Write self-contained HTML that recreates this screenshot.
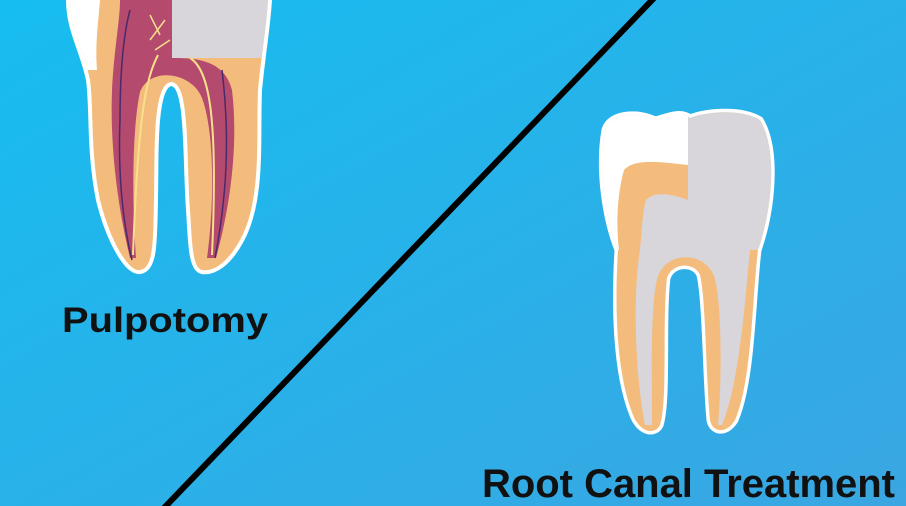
<!DOCTYPE html>
<html><head><meta charset="utf-8"><style>
html,body{margin:0;padding:0;width:906px;height:506px;overflow:hidden}
</style></head><body>
<svg width="906" height="506" viewBox="0 0 906 506" xmlns="http://www.w3.org/2000/svg">
<defs>
<linearGradient id="bg" x1="0" y1="0" x2="1" y2="1">
<stop offset="0" stop-color="#16bdf0"/>
<stop offset="1" stop-color="#3aa6e2"/>
</linearGradient>
<clipPath id="lt"><path d="M70,0 L268,0 C266,30 262,50 258,90 C256,140 262,200 240,240 C228,262 214,272 202,270 C192,268 192,240 190,210 C186,150 190,85 172,82 C152,82 155,150 154,200 C153,240 154,268 140,270 C128,272 110,240 100,200 C90,150 94,110 90,80 C84,50 70,30 70,0 Z"/></clipPath>
<clipPath id="rt"><path d="M605,130 C610,112 640,112 655,120 C665,118 680,110 690,118 C705,112 740,108 760,120 C778,150 772,210 758,250 C752,300 752,380 735,420 C726,435 712,432 710,420 C706,380 706,300 700,275 C695,262 672,262 667,278 C662,320 668,400 660,425 C655,435 640,433 633,415 C615,370 615,300 618,250 C606,220 598,170 605,130 Z"/></clipPath>
</defs>
<rect width="906" height="506" fill="url(#bg)"/>
<line x1="655" y1="-3" x2="163" y2="509" stroke="#000" stroke-width="6"/>

<!-- left tooth -->
<path d="M70,0 L268,0 C266,30 262,50 258,90 C256,140 262,200 240,240 C228,262 214,272 202,270 C192,268 192,240 190,210 C186,150 190,85 172,82 C152,82 155,150 154,200 C153,240 154,268 140,270 C128,272 110,240 100,200 C90,150 94,110 90,80 C84,50 70,30 70,0 Z" fill="#fff" stroke="#fff" stroke-width="8" stroke-linejoin="round"/>
<g clip-path="url(#lt)">
<rect x="60" y="0" width="220" height="300" fill="#f4bc7c"/>
<path d="M60,0 L100,0 C98,25 95,45 97,70 L60,70 Z" fill="#fff"/>
<path d="M120,0 L175,0 L175,58 C200,58 225,62 232,90 C238,140 232,200 216,258 L207,258 C215,200 214,130 202,98 C192,72 150,66 140,92 C132,130 132,200 136,258 L130,258 C116,200 110,140 112,90 C114,50 120,20 120,0 Z" fill="#b44a6e"/>
<path d="M172,0 L270,0 L270,58 L172,58 Z" fill="#d8d6da"/>
<path d="M158,55 C145,80 138,120 133,255 M190,58 C210,70 218,120 212,255" stroke="#f7e08a" stroke-width="2" fill="none"/>
<path d="M130,10 C122,40 120,80 120,120 C118,170 122,220 132,260 M222,70 C228,120 230,180 215,258" stroke="#4a2a6a" stroke-width="1.5" fill="none"/>
<path d="M150,40 L165,20 M160,35 L150,15 M155,50 L170,40" stroke="#f7e08a" stroke-width="1.5" fill="none"/>
</g>

<!-- right tooth -->
<path d="M605,130 C610,112 640,112 655,120 C665,118 680,110 690,118 C705,112 740,108 760,120 C778,150 772,210 758,250 C752,300 752,380 735,420 C726,435 712,432 710,420 C706,380 706,300 700,275 C695,262 672,262 667,278 C662,320 668,400 660,425 C655,435 640,433 633,415 C615,370 615,300 618,250 C606,220 598,170 605,130 Z" fill="#fff" stroke="#fff" stroke-width="7" stroke-linejoin="round"/>
<g clip-path="url(#rt)">
<rect x="590" y="100" width="200" height="340" fill="#f4bc7c"/>
<path d="M590,100 L688,100 L688,165 C660,162 635,158 624,170 C617,195 616,225 619,250 L590,250 Z" fill="#fff"/>
<path d="M646,200 C655,190 675,195 688,200 L688,250 L750,250 C745,300 740,380 722,425 L718,425 C722,380 722,300 714,276 C705,252 668,250 658,276 C650,300 652,380 652,425 L645,425 C636,380 632,300 640,250 C642,230 642,215 646,200 Z" fill="#d8d6da"/>
<rect x="688" y="100" width="100" height="150" fill="#d8d6da"/>
</g>

<text x="62" y="332" font-family="Liberation Sans, sans-serif" font-weight="bold" font-size="35" textLength="206" lengthAdjust="spacingAndGlyphs" fill="#111">Pulpotomy</text>
<text x="482" y="497" font-family="Liberation Sans, sans-serif" font-weight="bold" font-size="40" textLength="413" lengthAdjust="spacingAndGlyphs" fill="#111">Root Canal Treatment</text>
</svg>
</body></html>
